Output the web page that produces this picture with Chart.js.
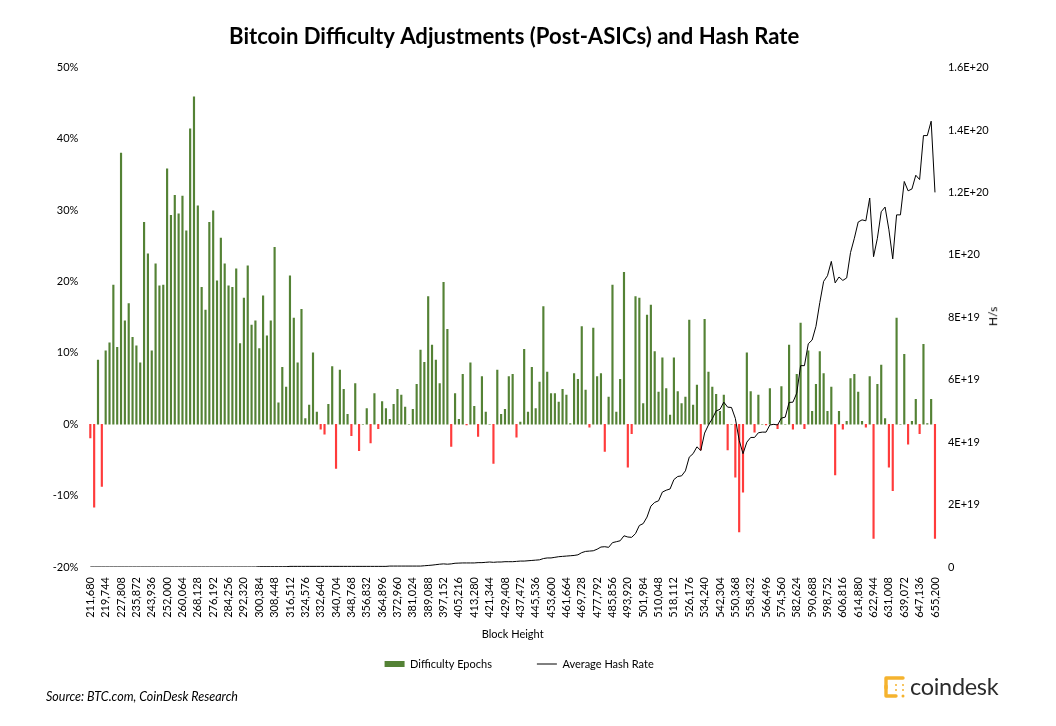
<!DOCTYPE html>
<html>
<head>
<meta charset="utf-8">
<title>Bitcoin Difficulty Adjustments</title>
<script src="https://cdn.jsdelivr.net/npm/chart.js@4"></script>
<style>
    html, body { margin: 0; padding: 0; background: #fff; }
    #wrap { position: relative; width: 1056px; height: 726px; overflow: hidden; font-family: Lato, sans-serif; color: #000; }
    canvas { position: absolute; left: 0; top: 0; }
    #source { position: absolute; left: 46px; top: 689px; font-size: 12.5px; font-style: italic; }
    #hs { position: absolute; left: 983px; top: 309px; font-size: 12px; transform: rotate(-90deg); }
    #logo { position: absolute; left: 883px; top: 675px; }
    #logoText { position: absolute; left: 910px; top: 672px; font-size: 23.5px; color: #2b2b2b; letter-spacing: -0.3px; }
</style>
</head>
<body>
<div id="wrap">
    <canvas id="chart" width="1056" height="726"></canvas>
    <div id="source">Source: BTC.com, CoinDesk Research</div>
    <div id="hs">H/s</div>
    <svg id="logo" width="24" height="24" viewBox="0 0 24 24">
        <g fill="none" stroke="#f5b32e" stroke-width="3.4" stroke-linecap="round">
            <path d="M3 3 H20 M3 3 V21 M3 21 H13"/>
            <path d="M3 11 V13"/>
        </g>
        <g fill="#f5b32e">
            <circle cx="20" cy="21" r="1.5"/><circle cx="13" cy="10" r="1"/><circle cx="20" cy="10" r="1"/>
            <circle cx="13" cy="15" r="1"/><circle cx="20" cy="15" r="1"/>
        </g>
    </svg>
    <div id="logoText">coindesk</div>
</div>
<script>
// Difficulty change per epoch, %
const difficultyEpochs = [
    -1.9, -11.6, 9.0, -8.7, 10.3, 11.4, 19.5, 10.8, 38.0, 14.5,
    16.9, 12.2, 11.0, 8.6, 28.3, 23.9, 10.3, 22.5, 19.4, 19.5,
    35.8, 29.3, 32.1, 29.5, 32.0, 27.1, 41.4, 45.9, 30.6, 19.2,
    16.0, 28.3, 29.9, 20.1, 26.1, 22.5, 19.4, 19.2, 21.8, 11.3,
    17.7, 22.2, 13.9, 14.5, 10.6, 18.0, 12.4, 14.5, 24.8, 3.0,
    8.0, 5.2, 20.8, 14.9, 8.6, 16.1, 0.8, 2.7, 10.0, 1.7,
    -0.7, -1.4, 2.8, 8.1, -6.2, 7.6, 4.9, 1.4, -1.6, 5.7,
    -3.7, 0, 2.2, -2.6, 4.3, -0.6, 3.2, 2.2, 0.7, 2.8,
    4.9, 4.1, 2.4, 0, 2.1, 5.6, 10.4, 8.7, 17.9, 11.1,
    9.0, 5.7, 19.9, 13.3, -3.1, 4.3, 0.7, 7.0, -0.1, 8.6,
    2.5, -1.7, 6.7, 1.7, 0, -5.5, 7.6, 1.4, 2.1, 6.7,
    7.0, -1.8, 0.3, 10.5, 1.7, 8.0, 2.2, 5.9, 16.5, 7.3,
    4.3, 4.3, 3.1, 4.9, 4.1, 0.1, 7.1, 6.3, 13.7, 4.8,
    -0.4, 13.5, 6.7, 7.1, -3.8, 3.8, 19.5, 1.7, 6.3, 21.3,
    -6.0, -1.3, 17.9, 17.7, 2.9, 15.3, 16.7, 10.2, 4.5, 9.3,
    5.0, 1.3, 9.3, 4.6, 2.9, 3.8, 14.6, 2.7, 5.5, -3.6,
    14.7, 7.3, 5.2, 4.2, 1.8, 4.1, -3.6, 0, -7.4, -15.1,
    -9.5, 10.0, 4.6, -1.1, 4.1, 0, -0.1, 5.0, 0, -0.6,
    5.3, 0, 11.1, -0.7, 7.0, 14.2, -0.6, 10.3, 1.8, 5.6,
    10.2, 7.1, 1.8, 5.2, -7.1, 1.8, -0.7, 0.4, 6.4, 7.0,
    4.5, 0.4, -0.4, 6.7, -16, 5.6, 8.3, 0.8, -6.0, -9.3,
    14.9, 0, 9.8, -2.8, 0.4, 3.5, -1.3, 11.2, 0.1, 3.5,
    -16
];

// Average hash rate, in units of 1E+18 H/s
const hashRate = [
    0, 0, 0, 0, 0, 0, 0, 0, 0, 0,
    0, 0, 0, 0, 0, 0, 0, 0, 0, 0,
    0, 0, 0, 0, 0, 0, 0, 0, 0, 0,
    0, 0, 0, 0, 0, 0, 0, 0, 0, 0,
    0, 0, 0, 0, 0.1, 0.1, 0.1, 0.1, 0.1, 0.1,
    0.1, 0.1, 0.2, 0.2, 0.2, 0.2, 0.2, 0.2, 0.2, 0.2,
    0.2, 0.2, 0.2, 0.2, 0.2, 0.2, 0.2, 0.2, 0.2, 0.2,
    0.2, 0.2, 0.2, 0.2, 0.2, 0.2, 0.2, 0.2, 0.3, 0.3,
    0.3, 0.3, 0.3, 0.3, 0.3, 0.3, 0.3, 0.4, 0.5, 0.6,
    0.75, 0.9, 1.0, 0.9, 1.0, 1.2, 1.25, 1.3, 1.3, 1.3,
    1.3, 1.4, 1.4, 1.5, 1.6, 1.5, 1.6, 1.6, 1.7, 1.7,
    1.7, 1.8, 1.9, 1.9, 2.0, 2.1, 2.2, 2.3, 2.7, 2.9,
    2.9, 3.1, 3.3, 3.4, 3.5, 3.6, 3.7, 3.9, 4.6, 5.0,
    5.1, 5.2, 5.7, 6.4, 6.5, 6.3, 7.8, 8.1, 8.4, 10.0,
    9.6, 9.5, 10.7, 13.3, 13.9, 16, 19.5, 20.7, 21.2, 24,
    24.6, 25, 28, 29, 29.2, 30.8, 35.2, 36.3, 38.5, 37.3,
    42.9, 45.5, 47.5, 50, 50.5, 52.8, 51.2, 51.1, 47.6, 40.6,
    36.3, 40, 41.5, 41.5, 43, 43.2, 43.2, 45.5, 45.7, 45.5,
    47.7, 48, 52.7, 52.8, 55.7, 64.5, 64.5, 71.5, 72.7, 77.1,
    84.7, 91.5, 93.3, 97.9, 91, 92.9, 91.8, 92.6, 100.7, 105.3,
    110.5, 111.2, 110.9, 118.2, 99.4, 105.3, 113.8, 115.3, 108, 98.7,
    112.8, 112.8, 123.5, 120.5, 121.1, 125.5, 124.1, 138.2, 138.2, 142.8,
    120
];

// Every 4th epoch gets a label on the x axis
const blockHeightTicks = [
    '211,680', '219,744', '227,808', '235,872', '243,936', '252,000', '260,064', '268,128',
    '276,192', '284,256', '292,320', '300,384', '308,448', '316,512', '324,576', '332,640',
    '340,704', '348,768', '356,832', '364,896', '372,960', '381,024', '389,088', '397,152',
    '405,216', '413,280', '421,344', '429,408', '437,472', '445,536', '453,600', '461,664',
    '469,728', '477,792', '485,856', '493,920', '501,984', '510,048', '518,112', '526,176',
    '534,240', '542,304', '550,368', '558,432', '566,496', '574,560', '582,624', '590,688',
    '598,752', '606,816', '614,880', '622,944', '631,008', '639,072', '647,136', '655,200'
];

const hashTicks = ['0', '2E+19', '4E+19', '6E+19', '8E+19', '1E+20', '1.2E+20', '1.4E+20', '1.6E+20'];

const GREEN = '#548235';
const RED = '#ff3b3b';
const FONT = 'Lato';

const categories = difficultyEpochs.map((v, i) => (i % 4 === 0 ? blockHeightTicks[i / 4] : ''));

const nudgeBlocks = {
    id: 'nudgeBlocks',
    afterLayout(chart) {
        // Title and legend sit slightly right of the plot centre in the original
        chart.legend.left += 6.5;
        chart.legend.right += 6.5;
        chart.titleBlock.left += 1.5;
        chart.titleBlock.right += 1.5;
        // The tall legend box eats axis height, extend it again or tick labels get clipped
        chart.scales.x.bottom += 43.5;
    }
};

new Chart(document.getElementById('chart'), {
    type: 'bar',
    plugins: [nudgeBlocks],
    data: {
        labels: categories,
        datasets: [
            {
                label: 'Difficulty Epochs',
                data: difficultyEpochs,
                yAxisID: 'y',
                order: 1,
                barThickness: 1.5,
                borderWidth: 0,
                backgroundColor: difficultyEpochs.map(v => (v < 0 ? RED : GREEN))
            },
            {
                label: 'Average Hash Rate',
                type: 'line',
                data: hashRate,
                yAxisID: 'y1',
                order: 0,
                borderColor: '#000',
                borderWidth: 1,
                pointRadius: 0,
                tension: 0
            }
        ]
    },
    options: {
        responsive: false,
        animation: false,
        devicePixelRatio: 1,
        layout: { padding: { top: 0, bottom: 46.5, left: 0, right: 0 } },
        plugins: {
            tooltip: { enabled: false },
            title: {
                display: true,
                text: 'Bitcoin Difficulty Adjustments (Post-ASICs) and Hash Rate',
                color: '#000',
                fullSize: false,
                font: { family: FONT, size: 22.1, weight: 'bold', lineHeight: 1.2 },
                padding: { top: 24, bottom: 17 }
            },
            legend: {
                position: 'bottom',
                fullSize: false,
                labels: {
                    color: '#000',
                    font: { family: FONT, size: 11 },
                    usePointStyle: true,
                    pointStyleWidth: 20,
                    boxHeight: 6,
                    padding: 45,
                    generateLabels(chart) {
                        // sorted by draw order, so the line comes first: flip back
                        const items = Chart.defaults.plugins.legend.labels.generateLabels(chart).reverse();
                        items[0].fillStyle = GREEN;
                        items[0].strokeStyle = GREEN;
                        items[0].pointStyle = 'rect';
                        items[1].pointStyle = 'line';
                        return items;
                    }
                }
            }
        },
        scales: {
            x: {
                grid: { display: false, drawTicks: false },
                border: { display: false },
                afterFit(scale) { scale.height = 46.5; },
                ticks: {
                    autoSkip: false,
                    minRotation: 90,
                    maxRotation: 90,
                    padding: 10,
                    color: '#000',
                    font: { family: FONT, size: 11 }
                },
                title: {
                    display: true,
                    text: 'Block Height',
                    color: '#000',
                    font: { family: FONT, size: 11 },
                    padding: { top: 0, bottom: 16 }
                }
            },
            y: {
                position: 'left',
                min: -20,
                max: 50,
                grid: { display: false, drawTicks: false },
                border: { display: false },
                afterFit(scale) { scale.width = 88.4; },
                ticks: {
                    stepSize: 10,
                    padding: 10,
                    color: '#000',
                    font: { family: FONT, size: 11 },
                    callback: v => v + '%'
                }
            },
            y1: {
                position: 'right',
                min: 0,
                max: 160,
                grid: { display: false, drawTicks: false },
                border: { display: false },
                afterFit(scale) { scale.width = 119.1; },
                ticks: {
                    stepSize: 20,
                    padding: 11,
                    color: '#000',
                    font: { family: FONT, size: 11 },
                    callback: (v, i) => hashTicks[i]
                }
            }
        }
    }
});
</script>
</body>
</html>
